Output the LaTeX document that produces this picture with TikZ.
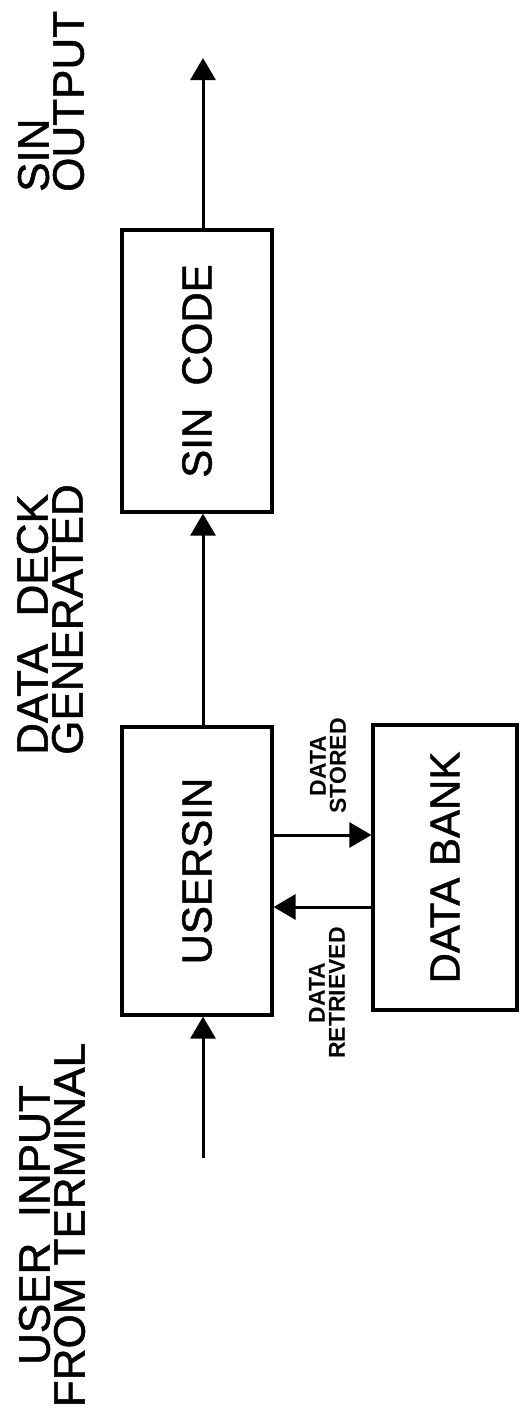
\documentclass[tikz,border=0pt]{standalone}
\usepackage{fontspec}
\setmainfont{Liberation Sans}
\newfontfamily\heavyfont{Liberation Sans}[FakeBold=1.2]
\usetikzlibrary{arrows.meta}
\tikzset{
  blk/.style={draw, line width=3.2pt, inner sep=0pt, font=\heavyfont\fontsize{42}{42}\selectfont},
  conn/.style={line width=3pt},
  arr/.style={conn, -{Triangle[length=22pt,width=25pt]}},
  biglbl/.style={rotate=90, inner sep=0pt, font=\heavyfont\fontsize{44}{35}\selectfont},
  smalllbl/.style={rotate=90, inner sep=0pt, align=center, font=\bfseries\fontsize{23}{20}\selectfont},
}
\begin{document}
\begin{tikzpicture}[x=1pt, y=-1pt]
\useasboundingbox (0,0) rectangle (525,1417);
% boxes
\node[blk, minimum width=150pt, minimum height=288pt] (usersin) at (197,871) {\rotatebox{90}{USERSIN}};
\node[blk, minimum width=150pt, minimum height=282pt] (sincode) at (197,371) {\rotatebox{90}{SIN\hspace{0.25em} CODE}};
\node[blk, minimum width=144pt, minimum height=285pt] (databank) at (445,867.5) {\rotatebox{90}{DATA BANK}};
% free ends
\coordinate (in) at (203,1158);
\coordinate (out) at (203,58);
% connectors
\draw[arr] (in) -- (in |- usersin.south);
\draw[arr] (in |- usersin.north) -- (in |- sincode.south);
\draw[arr] (in |- sincode.north) -- (out);
\draw[arr] (usersin.east |- 0,835) -- (databank.west |- 0,835);
\draw[arr] (databank.west |- 0,907) -- (usersin.east |- 0,907);
% labels
\node[biglbl, anchor=west, align=left] (lout) at (51,192) {SIN\\OUTPUT};
\node[biglbl, anchor=west, align=left] (ldeck) at (50,755) {DATA\hspace{0.35em} DECK\\GENERATED};
\node[biglbl, anchor=center, align=center] (linput) at (52,1225) {USER\hspace{0.3em} INPUT\\FROM TERMINAL};
\node[smalllbl] (lstored) at (328,766) {DATA\\STORED};
\node[smalllbl] (lretr) at (327,993) {DATA\\RETRIEVED};
\end{tikzpicture}
\end{document}
